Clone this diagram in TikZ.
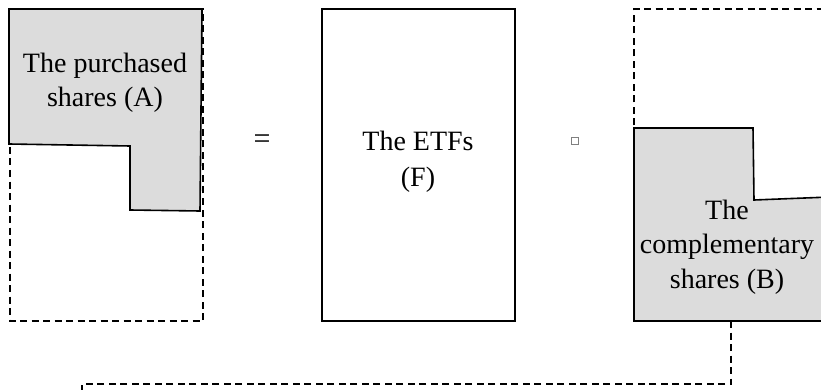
\documentclass[tikz,border=0pt]{standalone}
\usepackage{fontspec}
\setmainfont{Liberation Serif}
\definecolor{shade}{HTML}{DCDCDC}
\begin{document}
\begin{tikzpicture}[x=1pt,y=-1pt,
  solidln/.style={line width=1.6pt, draw=black, line join=miter},
  dashln/.style={line width=1.6pt, draw=black, dash pattern=on 7pt off 4.5pt},
  grayshape/.style={solidln, fill=shade},
  txt/.style={align=center, inner sep=0pt, font=\fontsize{28}{34.5}\selectfont},
  opbox/.style={draw=gray, line width=0.8pt, minimum size=7pt, inner sep=0pt}]
\useasboundingbox (0,0) rectangle (821,390);
% left: purchased shares inside dashed frame
\draw[dashln] (10,9) rectangle (203,321);
\draw[grayshape] (9,9) -- (202,9) -- (200,211) -- (130,210) -- (130,146) -- (9,144) -- cycle;
\node[txt] (A) at (105,83) {The purchased\\shares (A)};
% equals sign
\node[font=\fontsize{30}{34}\selectfont, inner sep=0pt] (eq) at (262,142) {=};
% middle: ETFs
\draw[solidln] (322,9) rectangle (515,321);
\node[txt, font=\fontsize{28}{36}\selectfont] (F) at (418,162) {The ETFs\\(F)};
% operator placeholder
\node[opbox] (op) at (575,141) {};
% right: complementary shares inside dashed frame
\draw[dashln] (634,321) -- (634,9) -- (830,9);
\draw[grayshape] (634,128) -- (753,128) -- (754,200) -- (830,197) -- (830,321) -- (634,321) -- cycle;
\node[txt] (B) at (727,247) {The\\complementary\\shares (B)};
% dashed connector
\coordinate (bout) at (731,321);
\coordinate (bcorner) at (731,384);
\coordinate (lcorner) at (82,384);
\coordinate (lend) at (82,395);
\draw[dashln] (bout) -- (bcorner) -- (lcorner) -- (lend);
\end{tikzpicture}
\end{document}
